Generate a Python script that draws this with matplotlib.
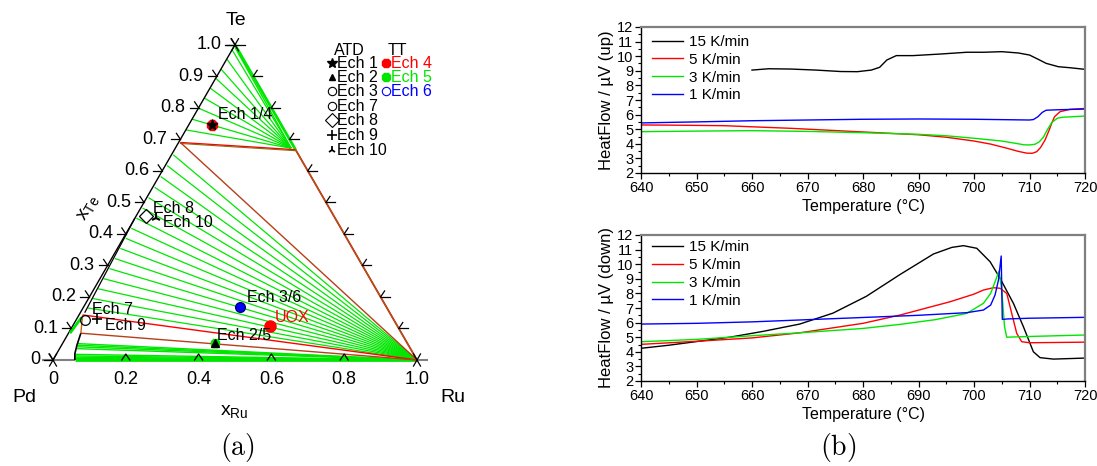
import numpy as np
import matplotlib
matplotlib.use("Agg")
import matplotlib.pyplot as plt

plt.rcParams['font.family'] = ['Liberation Sans', 'DejaVu Sans']
plt.rcParams['mathtext.fontset'] = 'custom'
plt.rcParams['mathtext.rm'] = 'Liberation Sans'
plt.rcParams['mathtext.it'] = 'Liberation Sans:italic'

GREEN = '#00e600'
RED = '#ff0000'
BROWN = '#b5401a'
OLIVE = '#8a6a1a'

# ---------------- ternary data (x_Ru, x_Te) ----------------
te_ticks = [0, 0.1, 0.2, 0.3, 0.4, 0.5, 0.6, 0.7, 0.8, 0.9, 1.0]
te_tick_labels = ['0', '0.1', '0.2', '0.3', '0.4', '0.5', '0.6', '0.7', '0.8', '0.9', '1.0']
ru_ticks = [0, 0.2, 0.4, 0.6, 0.8, 1.0]
ru_tick_labels = ['0', '0.2', '0.4', '0.6', '0.8', '1.0']
right_ticks = [0.1, 0.2, 0.3, 0.4, 0.5, 0.6, 0.7, 0.8, 0.9]

# tie lines to RuTe2 (upper region): Te at the Pd-Te edge
upper_fan_te = [0.730, 0.764, 0.799, 0.831, 0.863, 0.894, 0.923, 0.955, 0.984]
upper_fan_end = (0.318, 0.672)
ruTe2 = (0.333, 0.667)
pdTe_pt = (0.005, 0.69)

# tie lines to Ru (middle region): start points on the Pd-rich boundary
mid_fan_ru = [0.005, 0.005, 0.005, 0.005, 0.005, 0.005, 0.004, 0.006, 0.007, 0.008,
              0.009, 0.010, 0.010, 0.011, 0.012, 0.013]
mid_fan_te = [0.651, 0.617, 0.582, 0.548, 0.515, 0.482, 0.450, 0.418, 0.386, 0.354,
              0.322, 0.290, 0.258, 0.226, 0.195, 0.165]

# tie lines to Ru (bottom dense bundle)
low_fan_ru = [0.042, 0.044, 0.046, 0.048, 0.052, 0.054, 0.056, 0.058, 0.060]
low_fan_te = [0.052, 0.047, 0.042, 0.036, 0.018, 0.013, 0.009, 0.005, 0.002]

# red tie lines to Ru
red_ru = [0.010, 0.034]
red_te = [0.143, 0.085]

# Pd-rich boundary
bound_low_ru = [0.060, 0.050, 0.042, 0.034]
bound_low_te = [0.000, 0.020, 0.048, 0.085]
bound_up_ru = [0.012, 0.008, 0.004, 0.000]
bound_up_te = [0.150, 0.250, 0.350, 0.450]
edge_green_ru = [0.004, 0.011]
edge_green_te = [0.085, 0.135]

# samples
samples = {
    'Ech 1/4': (0.064, 0.746),
    'Ech 8': (0.027, 0.457),
    'Ech 10': (0.058, 0.450),
    'Ech 3/6': (0.430, 0.168),
    'UOX': (0.542, 0.108),
    'Ech 2/5': (0.418, 0.054),
    'Ech 7': (0.024, 0.127),
    'Ech 9': (0.056, 0.130),
}

# ---------------- DTA data ----------------
up_T15 = [660, 663, 667, 671.5, 676, 679, 681.5, 683, 684.3, 686, 689, 694, 698.7, 701.7, 705, 708, 710, 711.5, 713, 715.2, 717.3, 720]
up_v15 = [9.05, 9.14, 9.12, 9.05, 8.95, 8.94, 9.05, 9.24, 9.74, 10.04, 10.04, 10.15, 10.27, 10.27, 10.31, 10.22, 10.08, 9.8, 9.51, 9.28, 9.21, 9.1]
up_T5 = [640, 645, 655, 667, 679, 690, 695, 700, 703, 706, 708, 709.5, 710.5, 711.3, 712, 712.8, 713.5, 714, 714.5, 715.5, 717.3, 720]
up_v5 = [5.29, 5.28, 5.24, 5.06, 4.83, 4.62, 4.45, 4.19, 3.98, 3.69, 3.48, 3.36, 3.35, 3.46, 3.75, 4.26, 4.9, 5.4, 5.85, 6.2, 6.36, 6.42]
up_T3 = [640, 650, 660, 670, 680, 690, 695, 700, 705, 708, 709, 710, 711, 711.8, 712.5, 713.2, 714, 715, 716, 720]
up_v3 = [4.83, 4.87, 4.9, 4.85, 4.76, 4.65, 4.55, 4.38, 4.19, 4.0, 3.93, 3.92, 3.97, 4.15, 4.45, 4.95, 5.45, 5.75, 5.82, 5.9]
up_T1 = [640, 650, 660, 670, 680, 690, 700, 710, 710.7, 711.5, 712.3, 713, 715, 720]
up_v1 = [5.43, 5.5, 5.58, 5.63, 5.68, 5.7, 5.68, 5.63, 5.66, 5.85, 6.15, 6.3, 6.33, 6.38]

dn_T15 = [640, 645, 650, 656, 662, 668.6, 674.6, 680.6, 686.7, 692.7, 696, 698.1, 700.5, 702.9, 704.7, 707.1, 708.9, 710.7, 711.9, 714.3, 720]
dn_v15 = [4.24, 4.45, 4.7, 5.0, 5.4, 5.9, 6.65, 7.8, 9.3, 10.7, 11.15, 11.27, 11.09, 10.17, 9.03, 7.32, 5.72, 4.0, 3.6, 3.5, 3.57]
dn_T5 = [640, 650, 660, 668.6, 680, 686.7, 695.7, 700, 701.7, 703.5, 704.7, 705.9, 706.8, 707.7, 708.6, 710, 720]
dn_v5 = [4.51, 4.72, 4.95, 5.3, 5.95, 6.52, 7.43, 7.95, 8.23, 8.39, 8.35, 8.0, 6.63, 5.26, 4.69, 4.62, 4.66]
dn_T3 = [640, 650, 660, 668.6, 680, 686.7, 693, 698.7, 701.7, 703, 703.8, 704.5, 705, 705.5, 705.9, 710, 720]
dn_v3 = [4.69, 4.85, 5.1, 5.3, 5.6, 5.88, 6.2, 6.63, 7.32, 8.0, 8.8, 9.53, 8.23, 5.72, 5.0, 5.05, 5.15]
dn_T1 = [640, 650, 660, 670, 680, 690, 698.7, 701.7, 703, 703.8, 704.4, 704.9, 705.1, 706, 710, 720]
dn_v1 = [5.9, 5.95, 6.05, 6.2, 6.35, 6.5, 6.68, 6.86, 7.2, 7.9, 8.9, 10.56, 6.22, 6.25, 6.3, 6.36]

rate_labels = ['15 K/min', '5 K/min', '3 K/min', '1 K/min']
rate_colors = ['black', RED, GREEN, '#0000ff']

# ---------------- figure ----------------
W, H = 1097, 466
fig = plt.figure(figsize=(W / 100, H / 100), dpi=100)

# ternary axes: Pd at pixel (53,360), 364 px per unit
S = 364.0
PX0, PY0 = 53.0, 360.0
xl = (-0.14, 1.20)
yl = (-0.28, 0.98)
ax = fig.add_axes([(PX0 + xl[0] * S) / W, (H - (PY0 - yl[0] * S)) / H,
                   (xl[1] - xl[0]) * S / W, (yl[1] - yl[0]) * S / H])
ax.set_xlim(*xl)
ax.set_ylim(*yl)
ax.axis('off')

R3 = np.sqrt(3) / 2


def tc(ru, te):
    ru = np.asarray(ru, float)
    te = np.asarray(te, float)
    return ru + te / 2, te * R3


def px(x, y):
    return (x - PX0) / S, (PY0 - y) / S


def tline(ru, te, **kw):
    X, Y = tc(ru, te)
    ax.plot(X, Y, solid_capstyle='butt', **kw)


# fans
for t in upper_fan_te:
    tline([0.0, upper_fan_end[0]], [t, upper_fan_end[1]], color=GREEN, lw=0.9)
for r, t in zip(mid_fan_ru, mid_fan_te):
    tline([r, 1.0], [t, 0.0], color=GREEN, lw=0.9)
for r, t in zip(low_fan_ru, low_fan_te):
    tline([r, 1.0], [t, 0.0], color=GREEN, lw=1.0)
# bottom edge Pd-rich part grey, rest green
tline([-0.03, 0.06], [0, 0], color='#808080', lw=1.5)
tline([0.06, 1.0], [0, 0], color=GREEN, lw=2.0)
tline([1.0, 1.03], [0, 0], color='#808080', lw=1.5)
# apex to RuTe2 (thick green)
tline([0.0, ruTe2[0]], [1.0, ruTe2[1]], color=GREEN, lw=2.0)
tline([0.006, upper_fan_end[0]], [0.99, upper_fan_end[1]], color=GREEN, lw=1.0)
# left edge
tline([0, 0], [0, 1], color='black', lw=1.0)
# three-phase triangle
tline([pdTe_pt[0], ruTe2[0]], [pdTe_pt[1], ruTe2[1]], color=RED, lw=1.0)
tline([pdTe_pt[0], ruTe2[0]], [pdTe_pt[1] - 0.003, ruTe2[1] - 0.003], color=OLIVE, lw=0.8)
tline([pdTe_pt[0], 1.0], [pdTe_pt[1], 0.0], color=BROWN, lw=1.0)
tline([ruTe2[0], 1.0], [ruTe2[1], 0.0], color=RED, lw=1.3)
tline([ruTe2[0], 1.0], [ruTe2[1], 0.0], color=OLIVE, lw=0.8)
# red tie lines
tline([red_ru[0], 1.0], [red_te[0], 0.0], color=RED, lw=1.0)
tline([red_ru[1], 1.0], [red_te[1], 0.0], color=BROWN, lw=1.0)
# Pd-rich boundary
tline(bound_low_ru, bound_low_te, color='black', lw=1.2)
tline([bound_low_ru[-1], red_ru[0]], [bound_low_te[-1], red_te[0]], color='#c86414', lw=1.0)
tline(bound_up_ru, bound_up_te, color='black', lw=0.9)
tline(edge_green_ru, edge_green_te, color=GREEN, lw=2.0)

# ticks
k = 1.0 / S
for t in te_ticks:
    X, Y = tc(0, t)
    ax.plot([X - 9 * k, X], [Y, Y], color='black', lw=0.9)
    ax.plot([X, X - 4 * k], [Y, Y + 6 * k], color='black', lw=0.9)
for t in right_ticks:
    X, Y = tc(1 - t, t)
    ax.plot([X, X + 9 * k], [Y, Y], color='black', lw=0.9)
    ax.plot([X, X + 4 * k], [Y, Y + 6 * k], color='black', lw=0.9)
for r in ru_ticks[1:-1]:
    X, Y = tc(r, 0)
    ax.plot([X - 4 * k, X, X + 4 * k], [Y, Y + 6 * k, Y], color='black', lw=0.9)
for (r, t) in [(0, 0), (1, 0), (0, 1)]:
    X, Y = tc(r, t)
    d = 7 * k
    ax.plot([X - d * 0.5, X + d * 0.5], [Y - d * R3, Y + d * R3], color='black', lw=0.9)
    ax.plot([X - d * 0.5, X + d * 0.5], [Y + d * R3, Y - d * R3], color='black', lw=0.9)
X, Y = tc(0, 1)
ax.plot([X - 10 * k, X + 10 * k], [Y, Y], color='black', lw=0.9)

# tick labels
FS_T = 13
for t, lab in zip(te_ticks, te_tick_labels):
    X, Y = tc(0, t)
    ax.text(X - 13 * k, Y, lab, ha='right', va='center', fontsize=FS_T)
for r, lab in zip(ru_ticks, ru_tick_labels):
    X, Y = tc(r, 0)
    ax.text(X, Y - 20 * k, lab, ha='center', va='center', fontsize=FS_T)

ax.text(*px(236, 20), 'Te', ha='center', va='center', fontsize=14)
ax.text(*px(24, 398), 'Pd', ha='center', va='center', fontsize=14)
ax.text(*px(453, 398), 'Ru', ha='center', va='center', fontsize=14)
ax.text(*px(234, 411), r'x$_{\mathrm{Ru}}$', ha='center', va='center', fontsize=14)
ax.text(*px(88, 208), r'x$_{\mathrm{Te}}$', ha='center', va='center', fontsize=14, rotation=60)

# sample markers
X, Y = tc(*samples['Ech 1/4'])
ax.plot(X, Y, marker='8', color=RED, ms=8, ls='none')
ax.plot(X, Y, marker='*', color='black', ms=8, ls='none')
X, Y = tc(*samples['Ech 2/5'])
ax.plot(X, Y, marker='8', color=GREEN, ms=7, ls='none')
ax.plot(X, Y, marker='^', color='black', ms=6, ls='none')
X, Y = tc(*samples['Ech 3/6'])
ax.plot(X, Y, marker='o', mfc='#0000ff', mec='#000080', ms=7, ls='none', mew=1.0)
X, Y = tc(*samples['UOX'])
ax.plot(X, Y, marker='o', color=RED, ms=8, ls='none')
X, Y = tc(*samples['Ech 7'])
ax.plot(X, Y, marker='o', mfc='none', mec='black', ms=7, ls='none', mew=0.9)
X, Y = tc(*samples['Ech 8'])
ax.plot(X, Y, marker='D', mfc='none', mec='black', ms=7, ls='none', mew=0.9)
X, Y = tc(*samples['Ech 9'])
ax.plot(X, Y, marker='+', color='black', ms=7, mew=1.2, ls='none')
X, Y = tc(*samples['Ech 10'])
ax.plot(X, Y, marker='2', color='black', ms=7, ls='none', mew=1.5)

FS_L = 11.5
lab_pos = {'Ech 1/4': (218, 114), 'Ech 8': (153, 208), 'Ech 10': (163, 222),
           'Ech 3/6': (247, 297), 'UOX': (275, 317), 'Ech 2/5': (217, 335),
           'Ech 7': (92, 309), 'Ech 9': (105, 325)}
for name, (lx, ly) in lab_pos.items():
    ax.text(*px(lx, ly), name, ha='left', va='center', fontsize=FS_L,
            color=RED if name == 'UOX' else 'black')

# ternary legend
ax.text(*px(349, 50), 'ATD', ha='center', va='center', fontsize=FS_L)
ax.text(*px(397, 50), 'TT', ha='center', va='center', fontsize=FS_L)
atd_names = ['Ech 1', 'Ech 2', 'Ech 3', 'Ech 7', 'Ech 8', 'Ech 9', 'Ech 10']
atd_mk = [dict(marker='*', color='black', ms=7),
          dict(marker='^', color='black', ms=5),
          dict(marker='o', mfc='none', mec='black', ms=6, mew=0.8),
          dict(marker='o', mfc='none', mec='black', ms=6, mew=0.8),
          dict(marker='D', mfc='none', mec='black', ms=7, mew=0.8),
          dict(marker='+', color='black', ms=7, mew=1.2),
          dict(marker='2', color='black', ms=6, mew=1.3)]
rows_y = [63, 77, 91, 106, 120, 135, 150]
for nm, mk, ry in zip(atd_names, atd_mk, rows_y):
    ax.plot(*px(332, ry), ls='none', clip_on=False, **mk)
    ax.text(*px(337, ry), nm, ha='left', va='center', fontsize=FS_L)
tt_names = ['Ech 4', 'Ech 5', 'Ech 6']
tt_cols = [RED, GREEN, '#0000ff']
tt_mk = [dict(marker='8', color=RED, ms=7),
         dict(marker='8', color=GREEN, ms=7),
         dict(marker='o', mfc='none', mec='#0000ff', ms=6, mew=0.8)]
for nm, c, mk, ry in zip(tt_names, tt_cols, tt_mk, rows_y[:3]):
    ax.plot(*px(386, ry), ls='none', clip_on=False, **mk)
    ax.text(*px(391, ry), nm, ha='left', va='center', fontsize=FS_L, color=c)

plt.rcParams['mathtext.fontset'] = 'cm'
fig.text(237 / W, 1 - 447 / H, r'$\mathrm{(a)}$', ha='center', va='center', fontsize=20)
fig.text(838 / W, 1 - 447 / H, r'$\mathrm{(b)}$', ha='center', va='center', fontsize=20)

# ---------------- DTA axes ----------------
def dta_axes(top_px, bottom_px):
    a = fig.add_axes([641 / W, (H - bottom_px) / H, 444 / W, (bottom_px - top_px) / H])
    a.set_xlim(640, 720)
    a.set_ylim(2, 12)
    a.set_xticks(np.arange(640, 721, 10))
    a.set_xticks(np.arange(645, 720, 10), minor=True)
    a.set_yticks(np.arange(2, 13, 1))
    a.set_yticks(np.arange(2.5, 12, 1), minor=True)
    a.tick_params(direction='out', length=4, width=0.9, labelsize=10.5, pad=1.5,
                  top=False, right=False)
    a.tick_params(which='minor', direction='out', length=2.5, width=0.8, top=False, right=False)
    for s in ['top', 'right']:
        a.spines[s].set_color('#7f7f7f')
        a.spines[s].set_linewidth(1.6)
    for s in ['left', 'bottom']:
        a.spines[s].set_linewidth(1.0)
    a.set_xlabel('Temperature (°C)', fontsize=11.5, labelpad=3)
    return a


ax1 = dta_axes(27, 173)
for T, v, lab, c in zip([up_T15, up_T5, up_T3, up_T1], [up_v15, up_v5, up_v3, up_v1],
                        rate_labels, rate_colors):
    ax1.plot(T, v, color=c, lw=1.0, label=lab)
ax1.set_ylabel('HeatFlow / µV (up)', fontsize=12, labelpad=2)
ax1.legend(loc='upper left', bbox_to_anchor=(0.025, 0.946), frameon=False, fontsize=11,
           borderaxespad=0, borderpad=0, handlelength=2.0, handletextpad=0.4, labelspacing=0.25)

ax2 = dta_axes(235, 381)
for T, v, lab, c in zip([dn_T15, dn_T5, dn_T3, dn_T1], [dn_v15, dn_v5, dn_v3, dn_v1],
                        rate_labels, rate_colors):
    ax2.plot(T, v, color=c, lw=1.0, label=lab)
ax2.set_ylabel('HeatFlow / µV (down)', fontsize=12, labelpad=2)
ax2.legend(loc='upper left', bbox_to_anchor=(0.025, 0.964), frameon=False, fontsize=11,
           borderaxespad=0, borderpad=0, handlelength=2.0, handletextpad=0.4, labelspacing=0.25)

fig.savefig('out.png', dpi=100)
